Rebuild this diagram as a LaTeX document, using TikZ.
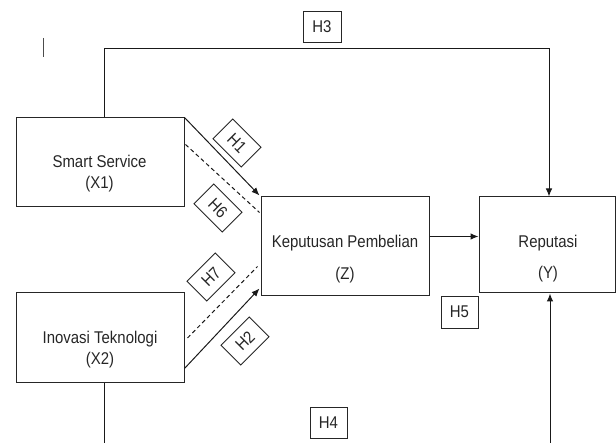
\documentclass[tikz,border=0pt]{standalone}
\usepackage{fontspec}
\setmainfont{Liberation Sans}[FakeStretch=0.88]
\usetikzlibrary{arrows.meta,calc}
\begin{document}
\begin{tikzpicture}[x=1pt,y=-1pt,
  every node/.style={font=\fontsize{17}{20}\selectfont, text=black!85},
  varbox/.style={draw=black!85, line width=1pt, inner sep=0pt},
  hbox/.style={draw=black!85, line width=0.9pt, inner sep=0pt, minimum width=37pt, minimum height=31pt},
  hdiam/.style={draw=black!85, line width=0.9pt, inner sep=0pt, minimum width=40pt, minimum height=28pt},
  lbl/.style={anchor=base},
  conn/.style={draw=black!90, line width=1pt},
  arr/.style={conn, -{Latex[length=8pt,width=6.5pt]}},
  dconn/.style={conn, dash pattern=on 4pt off 3pt},
]
\useasboundingbox (0,0) rectangle (616,443);

% stray tick mark
\coordinate (k1) at (43,38);
\coordinate (k2) at (43,57);
\draw[black!70, line width=1pt] (k1) -- (k2);

% variable boxes
\node[varbox, minimum width=168pt, minimum height=89pt] (X1) at (100,162.5) {};
\node[varbox, minimum width=168pt, minimum height=90pt] (X2) at (100,338) {};
\node[varbox, minimum width=168pt, minimum height=99pt] (Z) at (345,246.5) {};
\node[varbox, minimum width=136pt, minimum height=96pt] (Y) at (547,245) {};

% texts
\node[lbl] (x1a) at (99.5,168) {Smart Service};
\node[lbl] (x1b) at (99.5,189) {(X1)};
\node[lbl] (x2a) at (100,344) {Inovasi Teknologi};
\node[lbl] (x2b) at (100,365) {(X2)};
\node[lbl] (za) at (345,248) {Keputusan Pembelian};
\node[lbl] (zb) at (345,280) {(Z)};
\node[lbl] (ya) at (548,248) {Reputasi};
\node[lbl] (yb) at (548,279) {(Y)};

% H3 path
\coordinate (t1) at (104,49);
\coordinate (t2) at (549,49);
\draw[arr] (X1.north -| t1) -- (t1) -- (t2) -- (t2 |- Y.north);
\node[hbox, minimum width=38pt] (H3) at (322,26.5) {H3};

% bottom paths
\coordinate (b1) at (104,443);
\coordinate (b2) at (550,443);
\draw[conn] (X2.south -| b1) -- (b1);
\draw[arr] (b2) -- (b2 |- Y.south);
\node[hbox] (H4) at (328.5,422.5) {H4};

% Z -> Y
\draw[arr] ([yshift=10pt]Z.east) -- ([yshift=10pt]Z.east -| Y.west);
\node[hbox, minimum height=32pt] (H5) at (459.5,312) {H5};

% diagonals
\draw[arr] (X1.north east) -- ($(Z.north west)+(-1,-1)$);
\draw[dconn] ($(X1.north east)+(1,27)$) -- ($(Z.north west)+(-1,16)$);
\draw[dconn] ($(X2.east)+(3,0)$) -- ($(Z.north west)+(-3,70)$);
\draw[arr] ($(X2.south east)+(0,-15)$) -- ($(Z.south west)+(-1,-8)$);

\node[hdiam, rotate=-45] (H1) at (237,143) {H1};
\node[hdiam, rotate=-45] (H6) at (218,208) {H6};
\node[hdiam, rotate=45] (H7) at (211,277) {H7};
\node[hdiam, rotate=45] (H2) at (245,341) {H2};
\end{tikzpicture}
\end{document}
